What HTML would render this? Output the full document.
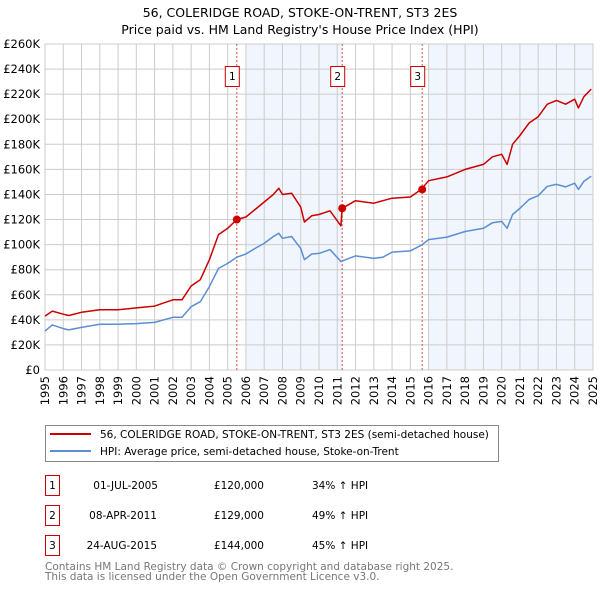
<!DOCTYPE html>
<html><head><meta charset="utf-8"><style>
body{margin:0;background:#fff;}
svg{font-family:"DejaVu Sans","Liberation Sans",sans-serif;}
</style></head><body>
<svg id="chart" width="600" height="590" viewBox="0 0 600 590">
<text x="300" y="17" text-anchor="middle" font-size="12.5">56, COLERIDGE ROAD, STOKE-ON-TRENT, ST3 2ES</text>
<text x="300" y="34" text-anchor="middle" font-size="12.5">Price paid vs. HM Land Registry's House Price Index (HPI)</text>
<g id="plot"></g>
<g>
<rect x="45.5" y="425.5" width="453" height="36" fill="#fff" stroke="#888"/>
<line x1="50" y1="434" x2="91" y2="434" stroke="#cc0000" stroke-width="2"/>
<text x="100" y="438" font-size="10.5">56, COLERIDGE ROAD, STOKE-ON-TRENT, ST3 2ES (semi-detached house)</text>
<line x1="50" y1="451" x2="91" y2="451" stroke="#5b8fd4" stroke-width="2"/>
<text x="100" y="455" font-size="10.5">HPI: Average price, semi-detached house, Stoke-on-Trent</text>
</g>
<g font-size="10.5">
<rect x="45.5" y="475.5" width="14" height="20" fill="none" stroke="#cc0000"/><text x="52.5" y="489" text-anchor="middle">1</text>
<text x="158" y="489" text-anchor="end">01-JUL-2005</text><text x="264" y="489" text-anchor="end">£120,000</text><text x="312" y="489">34% ↑ HPI</text>
<rect x="45.5" y="505.5" width="14" height="20" fill="none" stroke="#cc0000"/><text x="52.5" y="519" text-anchor="middle">2</text>
<text x="157" y="519" text-anchor="end">08-APR-2011</text><text x="264" y="519" text-anchor="end">£129,000</text><text x="312" y="519">49% ↑ HPI</text>
<rect x="45.5" y="535.5" width="14" height="20" fill="none" stroke="#cc0000"/><text x="52.5" y="549" text-anchor="middle">3</text>
<text x="157" y="549" text-anchor="end">24-AUG-2015</text><text x="264" y="549" text-anchor="end">£144,000</text><text x="312" y="549">45% ↑ HPI</text>
</g>
<text x="45" y="570" font-size="10.5" fill="#777">Contains HM Land Registry data © Crown copyright and database right 2025.</text>
<text x="45" y="580" font-size="10.5" fill="#777">This data is licensed under the Open Government Licence v3.0.</text>
</svg>
<script>
const years=[1995.0,1995.4,1996.0,1996.3,1997.0,1998.0,1999.0,2000.0,2001.0,2002.0,2002.5,2003.0,2003.5,2004.0,2004.5,2005.0,2005.5,2006.0,2006.5,2007.0,2007.5,2007.8,2008.0,2008.5,2009.0,2009.2,2009.6,2010.0,2010.6,2011.2,2011.27,2012.0,2013.0,2013.5,2014.0,2015.0,2015.6,2016.0,2017.0,2018.0,2019.0,2019.5,2020.0,2020.3,2020.6,2021.0,2021.5,2022.0,2022.5,2023.0,2023.5,2024.0,2024.2,2024.5,2024.9];
const hpiValues=[31,36,33,32,34,36.5,36.5,37,38,42,42,50.5,54.5,66.5,81,85,90,92.5,97,101,106.5,109,105,106.5,97,88,92.5,93,96,86.5,87,91,89,90,94,95,99.5,104,106,110.5,113,117.5,118.5,113,124,129,136,139,146.5,148,146,149,144,150.5,154.5];
const priceValues=[43,47,44.5,43.5,46,48,48,49.5,51,56,56,67,72,88,108,113,120,122,128,134,140,145,140,141,130,118,123,124,127,115,129,135,133,135,137,138,144,151,154,160,164,170,172,164,180,187,197,202,212,215,212,216,209,218,224];
const saleYears=[2005.5,2011.27,2015.65];
const salePrices=[120,129,144];
const saleLabels=["1","2","3"];
const yTicks=[0,20,40,60,80,100,120,140,160,180,200,220,240,260];
const xTicks=[1995,1996,1997,1998,1999,2000,2001,2002,2003,2004,2005,2006,2007,2008,2009,2010,2011,2012,2013,2014,2015,2016,2017,2018,2019,2020,2021,2022,2023,2024,2025];
const shadeRanges=[[2006,2011.3],[2016,2025]];

const X0=45,X1=593,Y0=370,Y1=44;
const sx=y=>X0+(y-1995)/30*(X1-X0);
const sy=v=>Y0-v/260*(Y0-Y1);
const NS="http://www.w3.org/2000/svg";
const g=document.getElementById('plot');
function mk(t,a){const e=document.createElementNS(NS,t);for(const k in a)e.setAttribute(k,a[k]);g.appendChild(e);return e;}
shadeRanges.forEach(r=>{
 const e=mk('rect',{x:sx(r[0]),y:Y1,width:sx(r[1])-sx(r[0]),height:Y0-Y1,fill:'#eef3fc',opacity:0.8});
 
 
});
yTicks.forEach(v=>{
 const l=mk('line',{x1:X0,x2:X1,y1:sy(v),y2:sy(v),stroke:'#ccc','stroke-width':1});
 
 
 const t=mk('text',{x:40,y:sy(v)+4,'text-anchor':'end','font-size':11.5});
 t.textContent=v===0?'£0':'£'+v+'K';
 
 
});
xTicks.forEach(y=>{
 const l=mk('line',{x1:sx(y),x2:sx(y),y1:Y1,y2:Y0,stroke:'#ccc','stroke-width':1});
 
 
 const t=mk('text',{x:0,y:0,'text-anchor':'end','font-size':11.5,transform:`translate(${sx(y)+4},376) rotate(-90)`});
 t.textContent=y;
 
 
});
const ax=mk('rect',{x:X0,y:Y1,width:X1-X0,height:Y0-Y1,fill:'none',stroke:'#ccc'});


saleYears.forEach((y,i)=>{
 const l=mk('line',{x1:sx(y),x2:sx(y),y1:Y1,y2:Y0,stroke:'#e05050','stroke-width':1,'stroke-dasharray':'2,2'});
 
 
 const b=mk('rect',{x:sx(y)-11.5,y:66.5,width:14,height:20,fill:'#fff',stroke:'#cc0000'});
 
 
 const t=mk('text',{x:sx(y)-4.5,y:80,'text-anchor':'middle','font-size':10.5});
 t.textContent=saleLabels[i];
 
 
});
function path(vals,color,name){
 const d=years.map((y,i)=>(i?'L':'M')+sx(y).toFixed(1)+','+sy(vals[i]).toFixed(1)).join('');
 const p=mk('path',{d:d,fill:'none',stroke:color,'stroke-width':1.5,'stroke-linejoin':'round'});
 
 
}
path(hpiValues,'#5b8fd4','hpi-line');
path(priceValues,'#cc0000','price-line');
saleYears.forEach((y,i)=>{
 const c=mk('circle',{cx:sx(y),cy:sy(salePrices[i]),r:4,fill:'#cc0000'});
 
 
});
</script>
</body></html>
